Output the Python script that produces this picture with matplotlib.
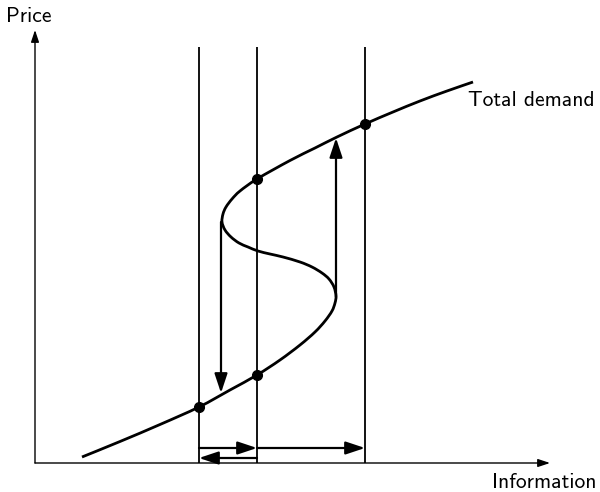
import matplotlib
matplotlib.use("Agg")
import matplotlib.pyplot as plt
from matplotlib.path import Path
from matplotlib.patches import PathPatch

# Total demand curve: (information, price) points
demand_info = [47, 85, 125, 164, 195, 222, 245, 265, 280, 290, 297, 300, 301,
               299, 294, 287, 277, 265, 248, 235, 223, 213, 204, 196, 190,
               187, 188, 191, 197, 205, 222, 255, 280, 302, 330, 358, 385, 412, 438]
demand_price = [6, 21.5, 38.5, 56, 73, 88, 103, 118, 131, 142, 152, 160, 167,
                176, 184, 190, 196, 201, 206, 209, 212, 216, 220, 226, 233,
                241, 249, 256, 264, 272, 284, 302.5, 315, 326, 339, 351, 362, 372, 381]

# equilibrium info levels (vertical lines) and dots
levels = [164, 222, 330]
level_top = 416
dot_info = [164, 222, 222, 330]
dot_price = [56, 88, 284, 339]

# jump arrows (info, price_from, price_to)
down_jump = (186, 241, 70)
up_jump = (301, 166, 325)

fig = plt.figure(figsize=(6, 4.92), dpi=100)
ax = fig.add_axes([0, 0, 1, 1])
ax.set_xlim(-35, 565)
ax.set_ylim(-29, 463)
ax.axis("off")

fam = "cmss10"
fs = 15.5
akw = dict(arrowstyle="-|>,head_length=0.9,head_width=0.3", color="black", lw=1.1,
           shrinkA=0, shrinkB=0, mutation_scale=10)

# axes
ax.annotate("", xy=(515, 0), xytext=(0, 0), arrowprops=dict(akw, lw=1.0, mutation_scale=8))
ax.annotate("", xy=(0, 433), xytext=(0, 0), arrowprops=dict(akw, lw=1.0, mutation_scale=8))
ax.text(-6, 447, "Price", family=fam, fontsize=fs, ha="center", va="center")
ax.text(509, -19, "Information", family=fam, fontsize=fs, ha="center", va="center")

# vertical lines
for q in levels:
    ax.plot([q, q], [0, level_top], color="black", lw=1.3, solid_capstyle="butt")

# smooth curve through the read points (Catmull-Rom drawn as cubic Bezier path)
pts = list(zip(demand_info, demand_price))
verts = [pts[0]]
codes = [Path.MOVETO]
n = len(pts)
for i in range(n - 1):
    p0 = pts[i - 1] if i > 0 else pts[i]
    p1 = pts[i]
    p2 = pts[i + 1]
    p3 = pts[i + 2] if i + 2 < n else pts[i + 1]
    c1 = (p1[0] + (p2[0] - p0[0]) / 6, p1[1] + (p2[1] - p0[1]) / 6)
    c2 = (p2[0] - (p3[0] - p1[0]) / 6, p2[1] - (p3[1] - p1[1]) / 6)
    verts += [c1, c2, p2]
    codes += [Path.CURVE4] * 3
ax.add_patch(PathPatch(Path(verts, codes), facecolor="none", edgecolor="black", lw=2.0,
                       capstyle="butt", joinstyle="round"))
ax.text(433, 362, "Total demand", family=fam, fontsize=fs, ha="left", va="center")

# dots
ax.plot(dot_info, dot_price, "o", color="black", ms=7, zorder=5)

# jump arrows
jk = dict(akw, lw=1.6, mutation_scale=13)
ax.annotate("", xy=(down_jump[0], down_jump[2]), xytext=(down_jump[0], down_jump[1]), arrowprops=jk)
ax.annotate("", xy=(up_jump[0], up_jump[2]), xytext=(up_jump[0], up_jump[1]), arrowprops=jk)

# bottom arrows
ax.annotate("", xy=(levels[1], 15), xytext=(levels[0], 15), arrowprops=jk)
ax.annotate("", xy=(levels[2], 15), xytext=(levels[1], 15), arrowprops=jk)
ax.annotate("", xy=(levels[0], 5), xytext=(levels[1], 5), arrowprops=jk)

fig.savefig("out.png", dpi=100, facecolor="white")
